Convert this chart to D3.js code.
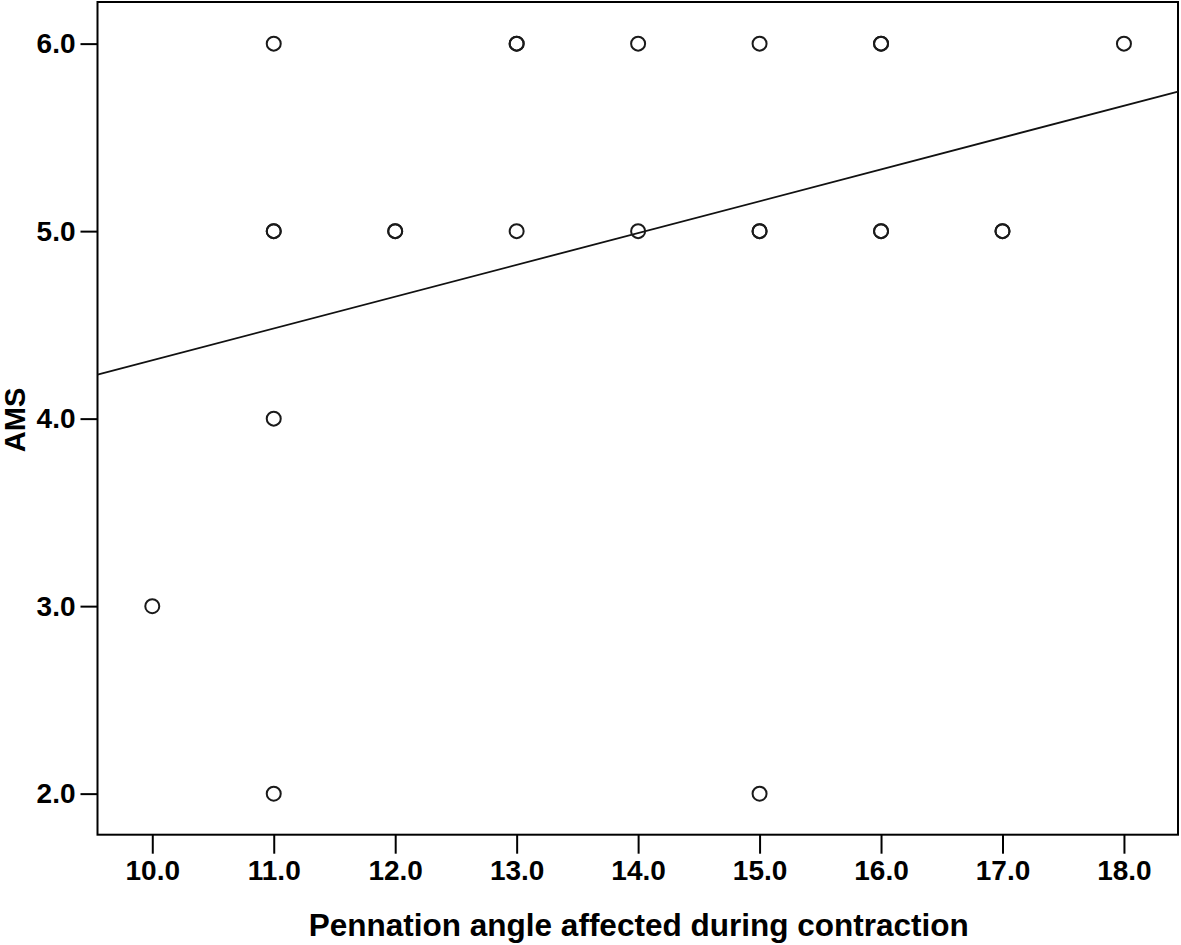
<!DOCTYPE html>
<html>
<head>
<meta charset="utf-8">
<script src="https://cdn.jsdelivr.net/npm/d3@7"></script>
<style>
  html, body { margin: 0; padding: 0; background: #fff; }
  svg { display: block; }
  svg text { font-family: 'Liberation Sans', Arial, sans-serif !important; font-weight: bold; fill: #000; }
</style>
</head>
<body>
<svg id="chart" width="1181" height="945"></svg>
<script>
// Data (x = pennation angle, y = AMS); repeated pairs are overlapping observations
const pennationAngle = [11, 13, 13, 14, 15, 16, 16, 18,
                        11, 11, 12, 12, 13, 14, 15, 15, 16, 16, 17, 17,
                        11, 10, 11, 15];
const amsScore       = [6, 6, 6, 6, 6, 6, 6, 6,
                        5, 5, 5, 5, 5, 5, 5, 5, 5, 5, 5, 5,
                        4, 3, 2, 2];
const xTicks = [10, 11, 12, 13, 14, 15, 16, 17, 18];
const yTicks = [2, 3, 4, 5, 6];
// Fit line (linear regression)
const fitIntercept = 2.614;
const fitSlope = 0.1697;

const svg = d3.select("#chart");
const pL = 97.5, pR = 1178, pT = 2, pB = 834.7;
const FONT = "'Liberation Sans', Arial, sans-serif";

const x = d3.scaleLinear().domain([9.549, 18.445]).range([pL, pR]);
const y = d3.scaleLinear().domain([1.781, 6.222]).range([pB, pT]);

// Frame
svg.append("rect")
  .attr("x", pL).attr("y", pT)
  .attr("width", pR - pL).attr("height", pB - pT)
  .attr("fill", "none").attr("stroke", "#000").attr("stroke-width", 2);

// X axis
const xAxis = svg.append("g").attr("transform", `translate(0,${pB})`)
  .call(d3.axisBottom(x).tickValues(xTicks).tickFormat(d3.format(".1f")).tickSize(19).tickPadding(6));
xAxis.attr("font-family", null).attr("font-size", null);
xAxis.select(".domain").remove();
xAxis.selectAll("line").attr("stroke", "#000").attr("stroke-width", 2);
xAxis.selectAll("text").style("font-family", FONT).style("font-size", "28px").style("font-weight", "bold").attr("fill", "#000");

// Y axis
const yAxis = svg.append("g").attr("transform", `translate(${pL},0)`)
  .call(d3.axisLeft(y).tickValues(yTicks).tickFormat(d3.format(".1f")).tickSize(17).tickPadding(5));
yAxis.attr("font-family", null).attr("font-size", null);
yAxis.select(".domain").remove();
yAxis.selectAll("line").attr("stroke", "#000").attr("stroke-width", 2);
yAxis.selectAll("text").style("font-family", FONT).style("font-size", "28px").style("font-weight", "bold").attr("fill", "#000");

// Fit line
const x0 = x.domain()[0], x1 = x.domain()[1];
svg.append("line")
  .attr("x1", x(x0)).attr("y1", y(fitIntercept + fitSlope * x0))
  .attr("x2", x(x1)).attr("y2", y(fitIntercept + fitSlope * x1))
  .attr("stroke", "#111").attr("stroke-width", 1.8);

// Points
svg.append("g").selectAll("circle")
  .data(pennationAngle.map((v, i) => [v, amsScore[i]]))
  .join("circle")
  .attr("cx", d => x(d[0])).attr("cy", d => y(d[1]))
  .attr("r", 7)
  .attr("fill", "none").attr("stroke", "#1a1a1a").attr("stroke-width", 2);

// Axis titles
svg.append("text")
  .attr("x", (pL + pR) / 2 + 1).attr("y", 936)
  .attr("text-anchor", "middle")
  .style("font-family", FONT).style("font-size", "31.5px").style("font-weight", "bold")
  .text("Pennation angle affected during contraction");

svg.append("text")
  .attr("transform", `translate(25,420) rotate(-90)`)
  .attr("text-anchor", "middle")
  .style("font-family", FONT).style("font-size", "29px").style("font-weight", "bold")
  .text("AMS");
</script>
</body>
</html>
